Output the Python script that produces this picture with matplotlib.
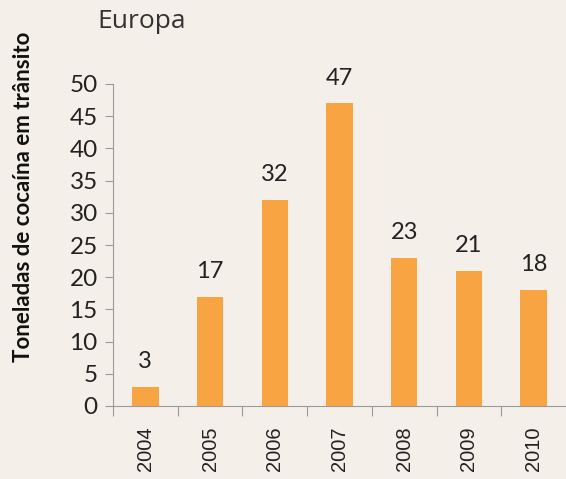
import matplotlib.pyplot as plt

years = ["2004", "2005", "2006", "2007", "2008", "2009", "2010"]
tons = [3, 17, 32, 47, 23, 21, 18]

bg = "#f5efe9"
bar_color = "#f9a442"
axis_color = "#9a9a9a"

fig = plt.figure(figsize=(5.66, 4.79), dpi=100, facecolor=bg)
ax = fig.add_axes([113/566, 1 - 406/479, 453/566, 322/479])
ax.set_facecolor(bg)

x = range(len(years))
ax.bar(x, tons, width=0.41, color=bar_color)
for xi, v in zip(x, tons):
    ax.text(xi, v + 2.3, str(v), ha="center", va="bottom",
            fontsize=17, family="Lato", color="#222222")

ax.set_xlim(-0.5, len(years) - 0.5)
ax.set_ylim(0, 50)
ax.set_yticks(range(0, 51, 5))
ax.tick_params(axis="y", labelsize=17.5, colors="#222222", length=6,
               color=axis_color, pad=5)
for lab in ax.get_yticklabels():
    lab.set_family("Lato")
ax.set_xticks([i - 0.5 for i in x], minor=False)
ax.set_xticklabels([])
ax.set_xticks(list(x), minor=True)
ax.set_xticklabels(years, minor=True, rotation=90, fontsize=14.5,
                   family="Liberation Sans", color="#222222")
ax.tick_params(axis="x", which="major", length=7, color=axis_color)
ax.tick_params(axis="x", which="minor", length=0, pad=15)

for s in ["top", "right"]:
    ax.spines[s].set_visible(False)
for s in ["left", "bottom"]:
    ax.spines[s].set_color(axis_color)

fig.text(97/566, 1 - 21/479, "Europa", fontsize=19, family="Open Sans",
         color="#333333", va="center", ha="left")
fig.text(24/566, 1 - 197/479, "Toneladas de cocaína em trânsito",
         rotation=90, fontsize=16, fontweight="bold", family="Lato",
         color="#111111", va="center", ha="center")

fig.savefig("out.png", dpi=100, facecolor=bg)
